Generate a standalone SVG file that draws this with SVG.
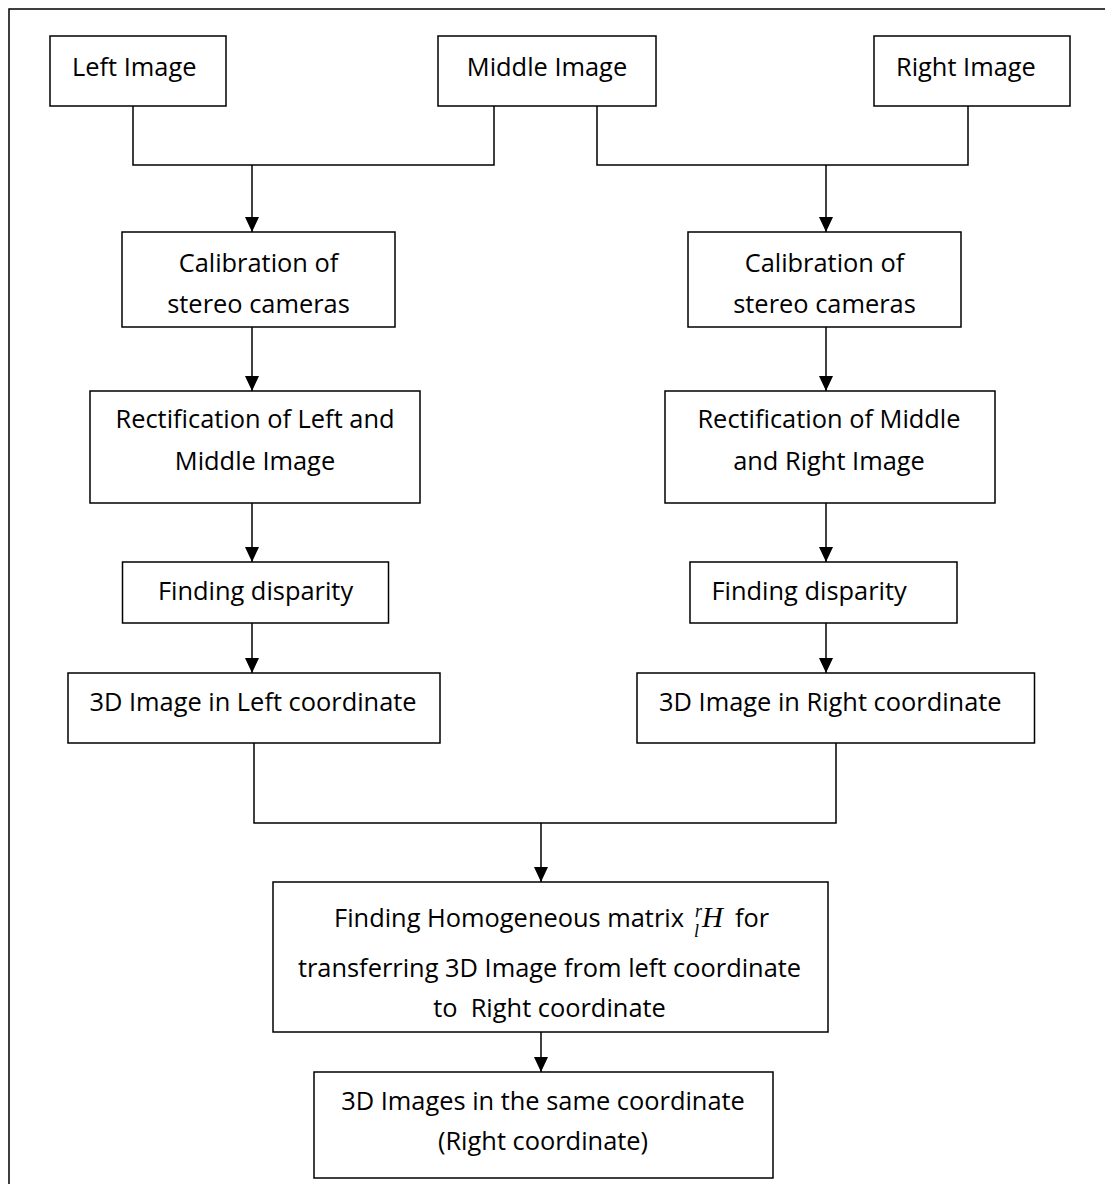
<svg xmlns="http://www.w3.org/2000/svg" width="1105" height="1184" viewBox="0 0 1105 1184">
<style>
.box{fill:#fff;stroke:#000;stroke-width:1.5}
.t{font-family:"Open Sans","Noto Sans",sans-serif;font-size:25.4px;fill:#000}
.c{text-anchor:middle}
.con{fill:none;stroke:#000;stroke-width:1.5}
.m{font-family:"Liberation Serif","DejaVu Serif",serif;font-style:italic;fill:#000}
</style>
<defs>
<marker id="ah" markerUnits="userSpaceOnUse" viewBox="0 0 15 14" refX="15" refY="7" markerWidth="15" markerHeight="14" orient="auto">
<path d="M0,0 L15,7 L0,14 Z" fill="#000"/>
</marker>
</defs>
<rect width="1105" height="1184" fill="#fff"/>
<path d="M9,1184 V9 H1105" fill="none" stroke="#000" stroke-width="1.5"/>

<g id="connectors" class="con">
<path d="M133,106 V165 H494 V106"/>
<path d="M597,106 V165 H968 V106"/>
<line x1="252" y1="165" x2="252" y2="232" marker-end="url(#ah)"/>
<line x1="826" y1="165" x2="826" y2="232" marker-end="url(#ah)"/>
<line x1="252" y1="327" x2="252" y2="391" marker-end="url(#ah)"/>
<line x1="826" y1="327" x2="826" y2="391" marker-end="url(#ah)"/>
<line x1="252" y1="503" x2="252" y2="562" marker-end="url(#ah)"/>
<line x1="826" y1="503" x2="826" y2="562" marker-end="url(#ah)"/>
<line x1="252" y1="623" x2="252" y2="673" marker-end="url(#ah)"/>
<line x1="826" y1="623" x2="826" y2="673" marker-end="url(#ah)"/>
<path d="M254,743 V823 H836 V743"/>
<line x1="541" y1="823" x2="541" y2="882" marker-end="url(#ah)"/>
<line x1="541" y1="1032" x2="541" y2="1072" marker-end="url(#ah)"/>
</g>

<g id="left-image">
<rect class="box" x="50" y="36" width="176" height="70"/>
<text class="t" x="72" y="76">Left Image</text>
</g>
<g id="middle-image">
<rect class="box" x="438" y="36" width="218" height="70"/>
<text class="t c" x="547" y="76">Middle Image</text>
</g>
<g id="right-image">
<rect class="box" x="874" y="36" width="196" height="70"/>
<text class="t" x="896" y="76">Right Image</text>
</g>

<g id="calib-left">
<rect class="box" x="122" y="232" width="273" height="95"/>
<text class="t c" x="258.5" y="272">Calibration of</text>
<text class="t c" x="258.5" y="313">stereo cameras</text>
</g>
<g id="calib-right">
<rect class="box" x="688" y="232" width="273" height="95"/>
<text class="t c" x="824.5" y="272">Calibration of</text>
<text class="t c" x="824.5" y="313">stereo cameras</text>
</g>

<g id="rect-left">
<rect class="box" x="90" y="391" width="330" height="112"/>
<text class="t c" x="255" y="428">Rectification of Left and</text>
<text class="t c" x="255" y="470">Middle Image</text>
</g>
<g id="rect-right">
<rect class="box" x="665" y="391" width="330" height="112"/>
<text class="t c" x="829" y="428">Rectification of Middle</text>
<text class="t c" x="829" y="470">and Right Image</text>
</g>

<g id="disp-left">
<rect class="box" x="122.5" y="562" width="266" height="61"/>
<text class="t c" x="255.5" y="600">Finding disparity</text>
</g>
<g id="disp-right">
<rect class="box" x="690" y="562" width="267" height="61"/>
<text class="t" x="711.5" y="600">Finding disparity</text>
</g>

<g id="3d-left">
<rect class="box" x="68" y="673" width="372" height="70"/>
<text class="t c" x="253" y="711">3D Image in Left coordinate</text>
</g>
<g id="3d-right">
<rect class="box" x="637" y="673" width="397.5" height="70"/>
<text class="t" x="659" y="711">3D Image in Right coordinate</text>
</g>

<g id="homogeneous">
<rect class="box" x="273" y="882" width="555" height="150"/>
<text class="t" x="684" y="927" text-anchor="end">Finding Homogeneous matrix</text>
<text class="m" x="695" y="917" font-size="18">r</text>
<text class="m" x="694" y="937" font-size="18">l</text>
<text class="m" x="702" y="927" font-size="29">H</text>
<text class="t" x="735" y="927">for</text>
<text class="t c" x="549.5" y="977">transferring 3D Image from left coordinate</text>
<text class="t c" x="549.5" y="1017" xml:space="preserve">to  Right coordinate</text>
</g>

<g id="same-coord">
<rect class="box" x="314" y="1072" width="459" height="106"/>
<text class="t c" x="543" y="1110">3D Images in the same coordinate</text>
<text class="t c" x="543" y="1150">(Right coordinate)</text>
</g>
</svg>
